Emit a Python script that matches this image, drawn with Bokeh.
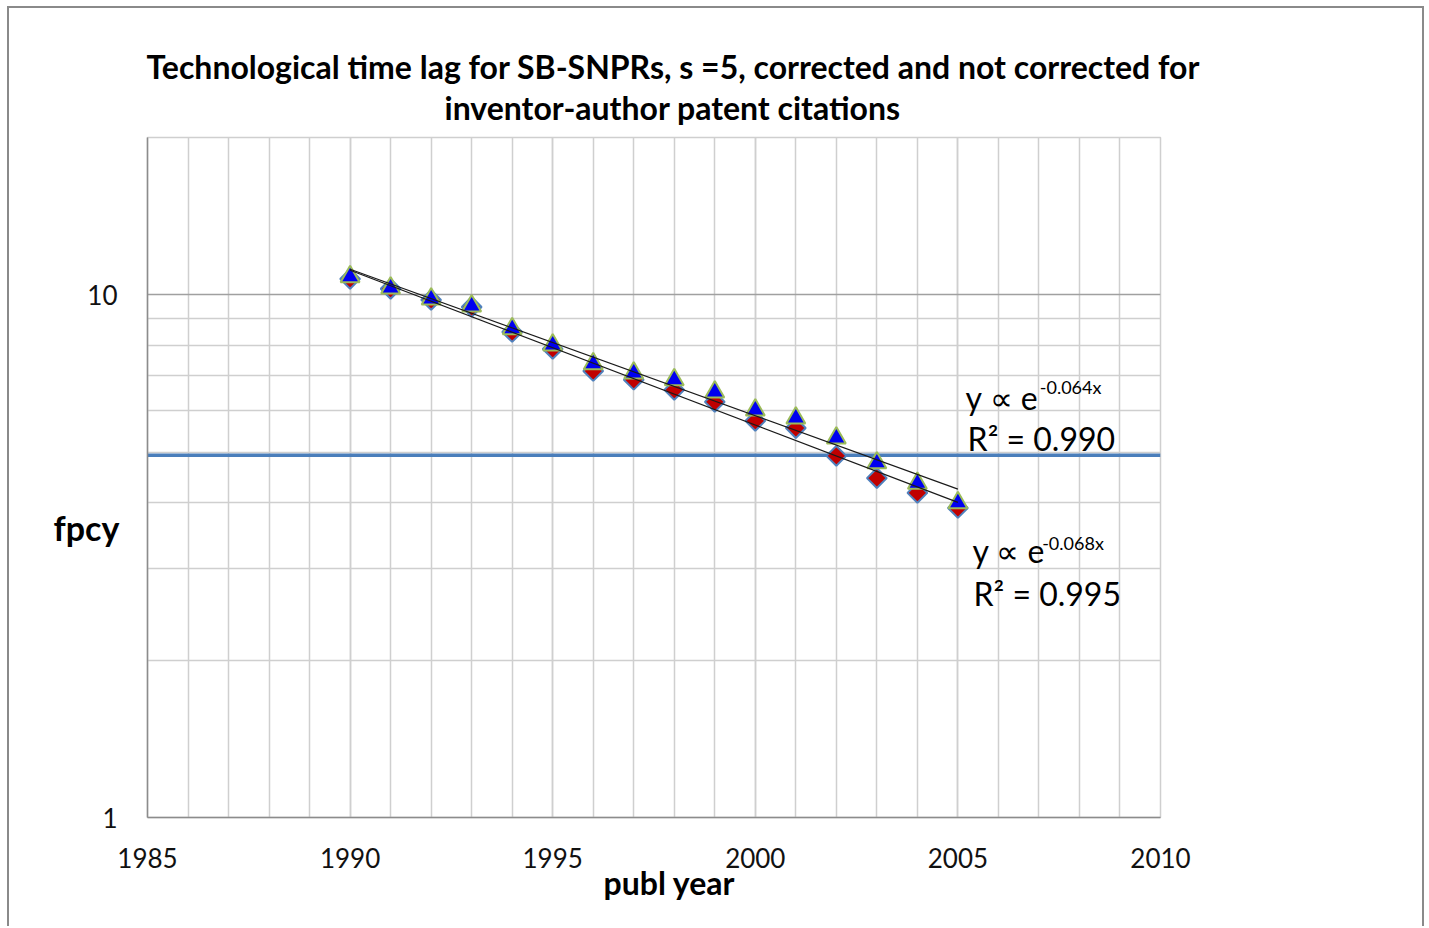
import numpy as np
from bokeh.plotting import figure
from bokeh.models import FixedTicker, Span, Label, Range1d, PrintfTickFormatter, Title
from bokeh.embed import file_html
from bokeh.resources import INLINE

# ---------------- data ----------------
years = list(range(1990, 2006))
fpcy_triangle = [10.83, 10.31, 9.82, 9.52, 8.61, 8.02, 7.38, 7.09, 6.88, 6.52,
                 6.02, 5.81, 5.32, 4.77, 4.36, 4.00]
fpcy_diamond = [10.73, 10.27, 9.78, 9.48, 8.49, 7.88, 7.15, 6.88, 6.58, 6.24,
                5.74, 5.56, 4.92, 4.46, 4.18, 3.91]
ref_level = [4.93]
x_ticks = [1985, 1990, 1995, 2000, 2005, 2010]
x_minor = list(range(1985, 2011))
y_ticks = [1, 10]
y_minor = [2, 3, 4, 5, 6, 7, 8, 9]
title_lines = ["Technological time lag for SB-SNPRs, s =5, corrected and not corrected for",
               "inventor-author patent citations"]
fit_upper = ["y \u221d e", "-0.064x", "R\u00b2 = 0.990"]
fit_lower = ["y \u221d e", "-0.068x", "R\u00b2 = 0.995"]

FONT = "Lato"

p = figure(width=1417, height=920, y_axis_type="log",
           x_range=Range1d(1985, 2010), y_range=Range1d(1, 20),
           output_backend="svg", toolbar_location=None,
           min_border_left=138, min_border_right=266, min_border_top=129,
           min_border_bottom=111)
p.styles = {"margin-left": "7px", "margin-top": "6px",
            "border-left": "2px solid #8a8a8a", "border-top": "2px solid #8a8a8a",
            "border-right": "2px solid #8a8a8a"}
p.background_fill_color = "white"
p.border_fill_color = "white"
p.outline_line_color = "#cfcfcf"
p.outline_line_width = 1.5

# axes
for ax in (p.xaxis[0], p.yaxis[0]):
    ax.axis_line_color = "#8c8c8c"
    ax.axis_line_width = 1.5
    ax.major_tick_line_color = None
    ax.minor_tick_line_color = None
    ax.major_label_text_font = FONT
    ax.major_label_text_font_size = "26px"
    ax.major_label_text_color = "#111111"

p.xaxis.ticker = FixedTicker(ticks=x_ticks, minor_ticks=x_minor)
p.yaxis.ticker = FixedTicker(ticks=y_ticks, minor_ticks=y_minor)
p.yaxis.formatter = PrintfTickFormatter(format="%d")
p.xaxis.major_label_standoff = 24
p.yaxis.major_label_standoff = 24

# y axis title "fpcy", horizontal
p.yaxis.axis_label = "\u00a0\nfpcy"
p.yaxis.axis_label_orientation = "horizontal"
p.yaxis.axis_label_text_font = FONT
p.yaxis.axis_label_text_font_size = "34px"
p.yaxis.axis_label_text_font_style = "bold"
p.yaxis.axis_label_text_color = "black"
p.yaxis.axis_label_text_line_height = 2.45
p.yaxis.axis_label_standoff = -35

p.xgrid.grid_line_color = "#cfcfcf"
p.xgrid.grid_line_width = 1.5
p.xgrid.minor_grid_line_color = "#cfcfcf"
p.xgrid.minor_grid_line_width = 1.5
p.ygrid.grid_line_color = "#a0a0a0"
p.ygrid.grid_line_width = 1.5
p.ygrid.minor_grid_line_color = "#cfcfcf"
p.ygrid.minor_grid_line_width = 1.5

# reference level line
p.add_layout(Span(location=ref_level[0], dimension="width", line_color="#4a7ebb",
                  line_width=3.5, level="underlay"))

# markers
p.scatter(years, fpcy_diamond, marker="square", angle=np.pi / 4, size=14,
          fill_color="#c00000", line_color="#4f81bd", line_width=2)
p.scatter(years, fpcy_triangle, marker="triangle", size=19,
          fill_color="#0000f0", line_color="#9bbb59", line_width=2)

# exponential trendlines fitted from the data
xs = np.array([years[0], years[-1]], dtype=float)
for series in (fpcy_triangle, fpcy_diamond):
    coef = np.polyfit(np.array(years, dtype=float), np.log(series), 1)
    p.line(xs, np.exp(np.polyval(coef, xs)), line_color="#1a1a1a", line_width=1.2)


def lab(x, y, text, size):
    p.add_layout(Label(x=x, y=y, text=text, text_font=FONT,
                       text_font_size=size, text_align="left",
                       text_baseline="alphabetic", text_color="black"))


# trendline annotations
lab(2005.19, 6.35, fit_upper[0], "32px")
lab(2007.02, 6.66, fit_upper[1], "18px")
lab(2005.24, 5.32, fit_upper[2], "32px")
lab(2005.36, 3.247, fit_lower[0], "32px")
lab(2007.08, 3.35, fit_lower[1], "18px")
lab(2005.385, 2.686, fit_lower[2], "32px")

# title (two lines)
p.add_layout(Title(text=title_lines[1], align="left", offset=297, text_font=FONT,
                   text_font_size="32px", text_font_style="bold", text_color="black",
                   standoff=22), "above")
p.add_layout(Title(text=title_lines[0], align="left", offset=-1, text_font=FONT,
                   text_font_size="32px", text_font_style="bold", text_color="black",
                   standoff=-22), "above")

# x axis title
p.add_layout(Title(text="publ year", align="left", offset=456, text_font=FONT,
                   text_font_size="32px", text_font_style="bold", text_color="black",
                   vertical_align="top", standoff=-16), "below")

open("out.html", "w").write(file_html(p, INLINE))
